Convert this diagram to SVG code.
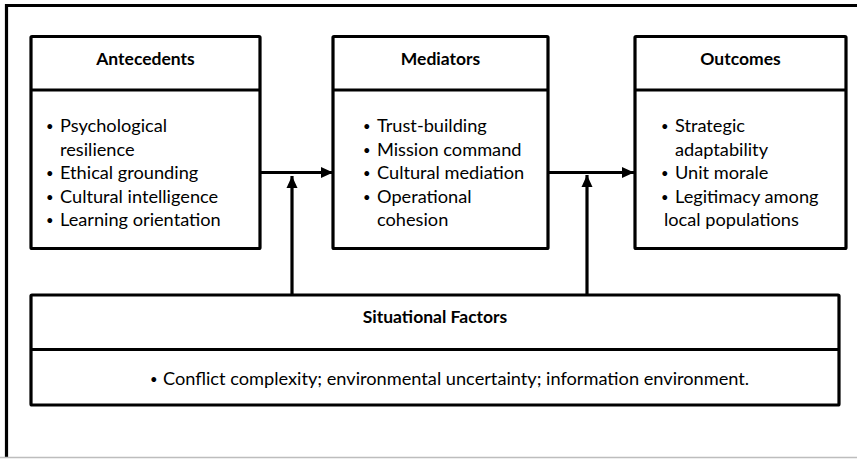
<svg xmlns="http://www.w3.org/2000/svg" width="857" height="459" viewBox="0 0 857 459">
<defs>
<style>
.box{fill:#fff;stroke:#000;stroke-width:3.2;}
.div{stroke:#000;stroke-width:3.2;}
.hd{font-family:Lato,"Liberation Sans",sans-serif;font-weight:bold;font-size:17.5px;fill:#000;text-anchor:middle;}
.tx{font-family:Lato,"Liberation Sans",sans-serif;font-size:18.2px;fill:#000;}
.bl{font-size:13px;}
.cn{stroke:#000;stroke-width:3.2;fill:none;}
</style>
<marker id="ah" viewBox="0 0 12 12" refX="12" refY="6" markerWidth="12" markerHeight="12" markerUnits="userSpaceOnUse" orient="auto">
<path d="M0,0.5 L12,6 L0,11.5 Z" fill="#000"/>
</marker>
</defs>
<rect x="0" y="0" width="857" height="459" fill="#fff"/>
<g id="frame">
<line x1="6.5" y1="4" x2="6.5" y2="457" stroke="#000" stroke-width="3.2"/>
<line x1="5" y1="5.5" x2="857" y2="5.5" stroke="#000" stroke-width="3.2"/>
<line x1="0" y1="457.5" x2="857" y2="457.5" stroke="#bdbdbd" stroke-width="1.5"/>
</g>
<g id="connectors">
<line class="cn" x1="260" y1="172.5" x2="333" y2="172.5" marker-end="url(#ah)"/>
<line class="cn" x1="548" y1="172.5" x2="634" y2="172.5" marker-end="url(#ah)"/>
<line class="cn" x1="292" y1="295" x2="292" y2="176" marker-end="url(#ah)"/>
<line class="cn" x1="587" y1="295" x2="587" y2="175" marker-end="url(#ah)"/>
</g>
<g id="antecedents">
<rect class="box" x="31" y="36.5" width="229" height="212" rx="1"/>
<line class="div" x1="31" y1="90" x2="260" y2="90"/>
<text class="hd" x="145.5" y="65">Antecedents</text>
<text class="tx"><tspan class="bl" x="46" y="131">•</tspan><tspan x="60" y="132">Psychological</tspan><tspan x="60" y="155.5">resilience</tspan><tspan class="bl" x="46" y="178">•</tspan><tspan x="60" y="179">Ethical grounding</tspan><tspan class="bl" x="46" y="201.5">•</tspan><tspan x="60" y="202.5">Cultural intelligence</tspan><tspan class="bl" x="46" y="225">•</tspan><tspan x="60" y="226">Learning orientation</tspan></text>
</g>
<g id="mediators">
<rect class="box" x="333" y="36.5" width="215" height="212" rx="1"/>
<line class="div" x1="333" y1="90" x2="548" y2="90"/>
<text class="hd" x="440.5" y="65">Mediators</text>
<text class="tx"><tspan class="bl" x="363" y="131">•</tspan><tspan x="377" y="132">Trust-building</tspan><tspan class="bl" x="363" y="154.5">•</tspan><tspan x="377" y="155.5">Mission command</tspan><tspan class="bl" x="363" y="178">•</tspan><tspan x="377" y="179">Cultural mediation</tspan><tspan class="bl" x="363" y="201.5">•</tspan><tspan x="377" y="202.5">Operational</tspan><tspan x="377" y="226">cohesion</tspan></text>
</g>
<g id="outcomes">
<rect class="box" x="635" y="36.5" width="211" height="212" rx="1"/>
<line class="div" x1="635" y1="90" x2="846" y2="90"/>
<text class="hd" x="740.5" y="65">Outcomes</text>
<text class="tx"><tspan class="bl" x="661" y="131">•</tspan><tspan x="675" y="132">Strategic</tspan><tspan x="675" y="155.5">adaptability</tspan><tspan class="bl" x="661" y="178">•</tspan><tspan x="675" y="179">Unit morale</tspan><tspan class="bl" x="661" y="201.5">•</tspan><tspan x="675" y="202.5">Legitimacy among</tspan><tspan x="664" y="226">local populations</tspan></text>
</g>
<g id="situational">
<rect class="box" x="31" y="295" width="808" height="110" rx="1"/>
<line class="div" x1="31" y1="349.5" x2="839" y2="349.5"/>
<text class="hd" x="435" y="323">Situational Factors</text>
<text class="tx"><tspan class="bl" x="150" y="384">•</tspan><tspan x="163" y="385">Conflict complexity; environmental uncertainty; information environment.</tspan></text>
</g>
</svg>
